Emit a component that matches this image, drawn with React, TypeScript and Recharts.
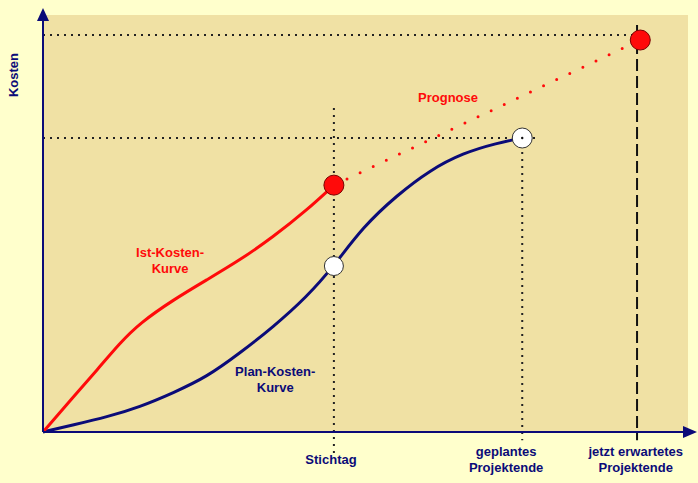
import { ComposedChart, Line, XAxis, YAxis, ReferenceLine, ReferenceDot, ReferenceArea } from "recharts";

// time axis 0..100, cost axis 0..100
const istKosten = [
  { t: 0, k: 0 }, { t: 4.7, k: 8.4 }, { t: 8.4, k: 14.9 }, { t: 11.9, k: 21.3 },
  { t: 15, k: 26.1 }, { t: 20.2, k: 31.7 }, { t: 25.4, k: 36.5 }, { t: 30.5, k: 41.2 },
  { t: 35.7, k: 46.8 }, { t: 40.9, k: 53.2 }, { t: 45.1, k: 59.2 },
];
const planKosten = [
  { t: 0, k: 0 }, { t: 4.7, k: 1.7 }, { t: 9.9, k: 3.6 }, { t: 15, k: 6 }, { t: 20.2, k: 9.4 },
  { t: 25.4, k: 13.2 }, { t: 30.5, k: 18.9 }, { t: 35.7, k: 25.2 }, { t: 40.9, k: 32.4 },
  { t: 45.1, k: 39.8 }, { t: 49.6, k: 49.2 }, { t: 54.9, k: 56.8 }, { t: 60, k: 62.8 },
  { t: 65.1, k: 66.9 }, { t: 70.4, k: 69.3 }, { t: 74.3, k: 70.5 },
];
const prognose = [{ t: 45.1, k: 59.2 }, { t: 92.6, k: 94 }];

const stichtag = 45.1;
const geplantesEnde = 74.3;
const erwartetesEnde = 92.1;
const planEndKosten = 70.5;
const erwartetKosten = 95.2;

const NAVY = "#0b0b78";
const RED = "#ff0a0a";
const DOT = "#222";

const textStyle = { fontFamily: "'Liberation Sans', Arial, sans-serif", fontSize: 13, fontWeight: 700 };

function textShape(lines: string[], color: string, rotate = false) {
  return (p: any) => {
    const start = p.cy + 4.5 - ((lines.length - 1) * 16) / 2;
    return (
      <text
        x={p.cx}
        y={start}
        textAnchor="middle"
        fill={color}
        style={textStyle}
        transform={rotate ? `rotate(-90 ${p.cx} ${p.cy})` : undefined}
      >
        {lines.map((l, i) => (
          <tspan key={i} x={p.cx} y={start + i * 16}>{l}</tspan>
        ))}
      </text>
    );
  };
}

const upArrow = (p: any) => (
  <path d={`M${p.cx},${p.cy} l-6,13 l12,0 z`} fill={NAVY} />
);
const rightArrow = (p: any) => (
  <path d={`M${p.cx},${p.cy} l-14,-6 l0,12 z`} fill={NAVY} />
);
const centerDotCircle = (p: any) => (
  <g>
    <circle cx={p.cx} cy={p.cy} r={10} fill="#fff" stroke="#333" strokeWidth={1} />
    <circle cx={p.cx} cy={p.cy} r={1.2} fill="#111" />
  </g>
);

export default function App() {
  return (
    <div style={{ position: "absolute", left: 0, top: 0, width: 698, height: 483, background: "#FFFFCC" }}>
      <ComposedChart width={698} height={483} margin={{ top: 15, right: 10, bottom: 51, left: 43 }}>
        <XAxis type="number" dataKey="t" domain={[0, 100]} hide />
        <YAxis type="number" dataKey="k" domain={[0, 100]} hide />
        <ReferenceArea x1={0} x2={100} y1={0} y2={100} fill="#F0E1A4" fillOpacity={1} stroke="none" />

        <ReferenceLine segment={[{ x: 0, y: erwartetKosten }, { x: 94.4, y: erwartetKosten }]}
          stroke={DOT} strokeWidth={2} strokeDasharray="2 5" ifOverflow="visible" />
        <ReferenceLine segment={[{ x: 0, y: planEndKosten }, { x: 77, y: planEndKosten }]}
          stroke={DOT} strokeWidth={2} strokeDasharray="2 5" ifOverflow="visible" />
        <ReferenceLine segment={[{ x: stichtag, y: 77.7 }, { x: stichtag, y: -5.5 }]}
          stroke={DOT} strokeWidth={2} strokeDasharray="2 5" ifOverflow="visible" />
        <ReferenceLine segment={[{ x: geplantesEnde, y: planEndKosten }, { x: geplantesEnde, y: -2 }]}
          stroke={DOT} strokeWidth={2} strokeDasharray="2 5" ifOverflow="visible" />
        <ReferenceLine segment={[{ x: erwartetesEnde, y: 97.6 }, { x: erwartetesEnde, y: -2 }]}
          stroke="#111" strokeWidth={2} strokeDasharray="12 5" ifOverflow="visible" />

        <Line data={prognose} dataKey="k" type="linear" stroke={RED} strokeWidth={3}
          strokeDasharray="0 14.5" strokeLinecap="round" dot={false} isAnimationActive={false} />
        <Line data={planKosten} dataKey="k" type="basis" stroke={NAVY} strokeWidth={3}
          dot={false} isAnimationActive={false} />
        <Line data={istKosten} dataKey="k" type="basis" stroke={RED} strokeWidth={3}
          dot={false} isAnimationActive={false} />

        <ReferenceLine segment={[{ x: 0, y: 0 }, { x: 0, y: 99.5 }]} stroke={NAVY} strokeWidth={2} ifOverflow="visible" />
        <ReferenceLine segment={[{ x: 0, y: 0 }, { x: 100.5, y: 0 }]} stroke={NAVY} strokeWidth={2} ifOverflow="visible" />
        <ReferenceDot x={0} y={101.7} r={6} ifOverflow="visible" shape={upArrow} />
        <ReferenceDot x={101.4} y={0} r={6} ifOverflow="visible" shape={rightArrow} />

        <ReferenceDot x={stichtag} y={59.2} r={10} fill={RED} stroke="#7a0000" strokeWidth={1} ifOverflow="visible" />
        <ReferenceDot x={stichtag} y={39.8} r={9.5} fill="#fff" stroke="#333" strokeWidth={1} ifOverflow="visible" />
        <ReferenceDot x={geplantesEnde} y={planEndKosten} r={10} ifOverflow="visible" shape={centerDotCircle} />
        <ReferenceDot x={92.6} y={94} r={10} fill={RED} stroke="#7a0000" strokeWidth={1} ifOverflow="visible" />

        <ReferenceDot x={62.8} y={80.1} r={1} ifOverflow="visible" shape={textShape(["Prognose"], RED)} />
        <ReferenceDot x={19.7} y={41.2} r={1} ifOverflow="visible" shape={textShape(["Ist-Kosten-", "Kurve"], RED)} />
        <ReferenceDot x={36} y={12.5} r={1} ifOverflow="visible" shape={textShape(["Plan-Kosten-", "Kurve"], NAVY)} />
        <ReferenceDot x={-4.65} y={85.6} r={1} ifOverflow="visible" shape={textShape(["Kosten"], NAVY, true)} />
        <ReferenceDot x={44.65} y={-6.7} r={1} ifOverflow="visible" shape={textShape(["Stichtag"], NAVY)} />
        <ReferenceDot x={71.8} y={-6.7} r={1} ifOverflow="visible" shape={textShape(["geplantes", "Projektende"], NAVY)} />
        <ReferenceDot x={91.9} y={-6.7} r={1} ifOverflow="visible" shape={textShape(["jetzt erwartetes", "Projektende"], NAVY)} />
      </ComposedChart>
    </div>
  );
}
